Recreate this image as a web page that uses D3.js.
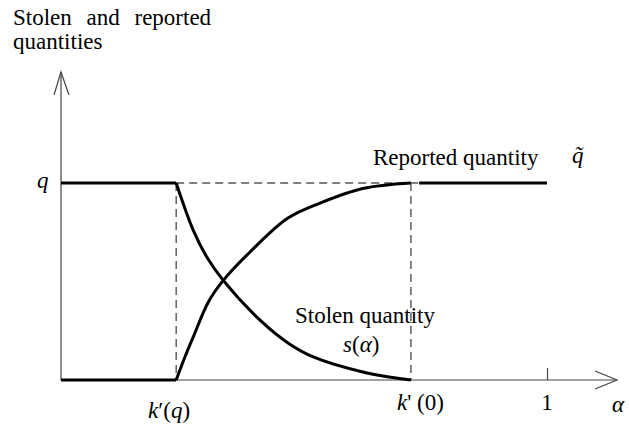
<!DOCTYPE html>
<html>
<head>
<meta charset="utf-8">
<script src="https://cdn.jsdelivr.net/npm/d3@7"></script>
<style>
  body { margin: 0; background: #fff; }
</style>
</head>
<body>
<div id="chart"></div>
<script>
var width = 629;
var height = 427;
var serif = "'Liberation Serif', Tinos, 'Times New Roman', 'DejaVu Serif', serif";

// alpha positions of the marked points on the horizontal axis
var kq = 0.237;   // k'(q)
var k0 = 0.72;    // k'(0)

// reported quantity q~(alpha), in units of q, between k'(q) and k'(0)
var reportedAlpha = [0.237, 0.255, 0.272, 0.303, 0.333, 0.389, 0.467, 0.533, 0.621, 0.72];
var reportedValue = [0, 0.117, 0.218, 0.395, 0.503, 0.650, 0.822, 0.898, 0.972, 1];
var reportedLow = [0, 0.237];
var reportedFlat = [0.737, 1];

// stolen quantity s(alpha), in units of q, between k'(q) and k'(0)
var stolenAlpha = [0.237, 0.272, 0.300, 0.333, 0.409, 0.467, 0.519, 0.621, 0.72];
var stolenValue = [1, 0.761, 0.624, 0.508, 0.305, 0.188, 0.117, 0.041, 0];
var stolenHigh = [0, 0.237];

var svg = d3.select('#chart')
  .append('svg')
  .attr('width', width)
  .attr('height', height);

var xScale = d3.scaleLinear().domain([0, 1]).range([61, 547]);
var yScale = d3.scaleLinear().domain([0, 1]).range([380, 183]);

var axisColor = '#444';

// axes with open arrow heads
svg.append('line')
  .attr('x1', xScale(0)).attr('y1', yScale(0))
  .attr('x2', xScale(0)).attr('y2', 72)
  .attr('stroke', axisColor).attr('stroke-width', 1.2);
svg.append('path')
  .attr('d', 'M' + (xScale(0) - 7) + ',95L' + xScale(0) + ',72L' + (xScale(0) + 8) + ',95')
  .attr('fill', 'none').attr('stroke', axisColor).attr('stroke-width', 1.2);

svg.append('line')
  .attr('x1', xScale(0)).attr('y1', yScale(0))
  .attr('x2', 617).attr('y2', yScale(0))
  .attr('stroke', axisColor).attr('stroke-width', 1.2);
svg.append('path')
  .attr('d', 'M595,' + (yScale(0) - 9) + 'L617,' + yScale(0) + 'L595,' + (yScale(0) + 9))
  .attr('fill', 'none').attr('stroke', axisColor).attr('stroke-width', 1.2);

// tick at alpha = 1
var xAxis = d3.axisBottom(xScale).tickValues([1]).tickSize(-12).tickFormat('');
var gx = svg.append('g')
  .attr('transform', 'translate(0,' + yScale(0) + ')')
  .call(xAxis);
gx.select('.domain').remove();
gx.selectAll('.tick line').attr('stroke', axisColor).attr('stroke-width', 1.2);

// dashed guides
var dash = '8,5';
svg.append('line')
  .attr('x1', xScale(kq)).attr('y1', yScale(1))
  .attr('x2', xScale(0.785)).attr('y2', yScale(1))
  .attr('stroke', '#555').attr('stroke-width', 1.4).attr('stroke-dasharray', dash);
[kq, k0].forEach(function (a) {
  svg.append('line')
    .attr('x1', xScale(a)).attr('y1', yScale(1))
    .attr('x2', xScale(a)).attr('y2', yScale(0))
    .attr('stroke', '#555').attr('stroke-width', 1.4).attr('stroke-dasharray', dash);
});

// curves
var line = d3.line()
  .x(d => xScale(d[0]))
  .y(d => yScale(d[1]))
  .curve(d3.curveCatmullRom.alpha(0.5));

var reported = reportedAlpha.map((a, i) => [a, reportedValue[i]]);
var stolen = stolenAlpha.map((a, i) => [a, stolenValue[i]]);

[reported, stolen].forEach(function (pts) {
  svg.append('path')
    .attr('d', line(pts))
    .attr('fill', 'none')
    .attr('stroke', '#000')
    .attr('stroke-width', 3)
    .attr('stroke-linejoin', 'round');
});

// flat pieces
[[reportedLow, 0], [stolenHigh, 1], [reportedFlat, 1]].forEach(function (seg) {
  svg.append('line')
    .attr('x1', xScale(seg[0][0])).attr('y1', yScale(seg[1]))
    .attr('x2', xScale(seg[0][1])).attr('y2', yScale(seg[1]))
    .attr('stroke', '#000').attr('stroke-width', 3);
});

// text
function label(x, y) {
  return svg.append('text')
    .attr('x', x).attr('y', y)
    .attr('font-family', serif)
    .attr('font-size', 23)
    .attr('fill', '#000');
}

label(13, 25).attr('word-spacing', 9).text('Stolen and reported');
label(13, 49).text('quantities');

label(37, 188).attr('font-style', 'italic').text('q');

label(373, 165).text('Reported quantity');
label(572, 163).attr('font-style', 'italic').text('q\u0303');

label(295, 323).text('Stolen quantity');
var sa = label(343, 352);
sa.append('tspan').attr('font-style', 'italic').text('s');
sa.append('tspan').text('(');
sa.append('tspan').attr('font-style', 'italic').text('\u03B1');
sa.append('tspan').text(')');

var kqLabel = label(148, 418);
kqLabel.append('tspan').attr('font-style', 'italic').text('k');
kqLabel.append('tspan').text('\u2032(');
kqLabel.append('tspan').attr('font-style', 'italic').text('q');
kqLabel.append('tspan').text(')');

var k0Label = label(397, 410);
k0Label.append('tspan').attr('font-style', 'italic').text('k');
k0Label.append('tspan').text('\' (0)');

label(xScale(1), 410).attr('text-anchor', 'middle').text('1');
label(612, 412).attr('font-style', 'italic').text('\u03B1');
</script>
</body>
</html>
